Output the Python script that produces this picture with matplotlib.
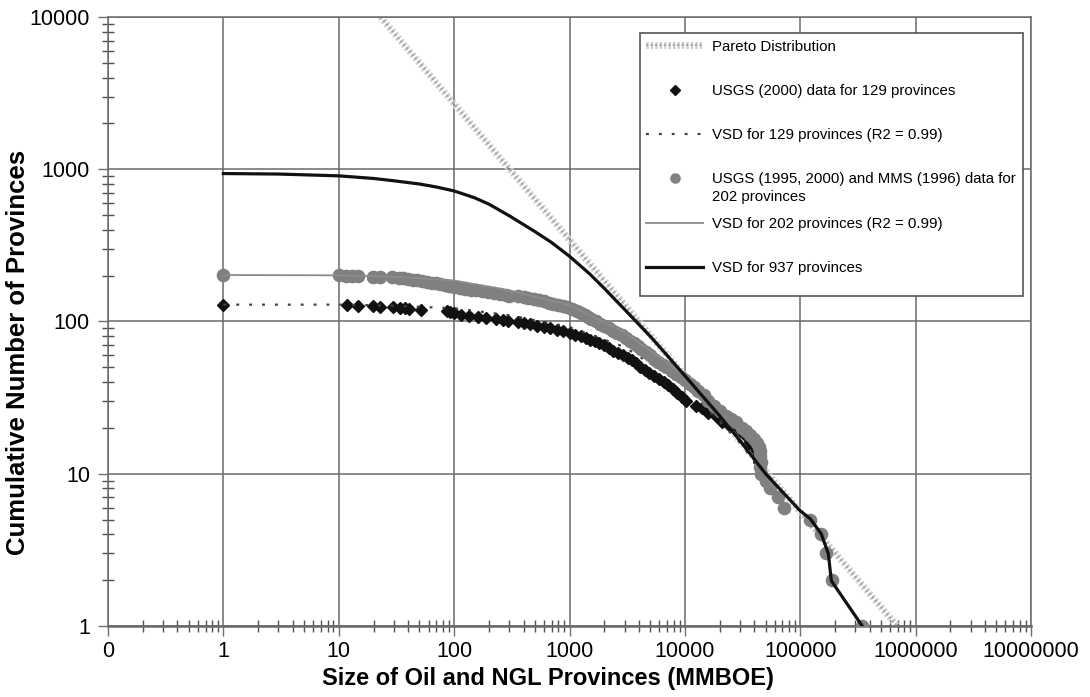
import numpy as np
import matplotlib
matplotlib.use('Agg')
import matplotlib.pyplot as plt
import matplotlib.patheffects as pe
from matplotlib.patches import Rectangle
from matplotlib.ticker import LogLocator, FixedLocator, NullFormatter

plt.rcParams['font.family'] = ['Liberation Sans', 'DejaVu Sans']

# Pareto distribution (straight line in log-log space)
pareto_size = [23, 690000]
pareto_count = [10000, 1]

# USGS (2000) data, 129 provinces
usgs129_size = [1, 11.7, 14.8, 19.9, 22.6, 29.7, 34, 37.5, 41, 52,
                86, 92, 100, 115, 135, 160, 190, 230, 265, 295,
                360, 400, 450, 520, 600, 680, 780, 880, 1000, 1120,
                1250, 1380, 1500, 1650, 1800, 2000, 2200, 2400, 2650, 2900,
                3200, 3500, 3800, 4100, 4500, 4900, 5400, 6000, 6600, 7200,
                7900, 8600, 9400, 10300, 12500, 14000, 16000, 18500, 21000, 24000,
                27000, 30000, 33000, 36000, 40000, 42000, 43000, 44000, 45000, 46000,
                55000, 64000, 72000, 122000, 150000, 168000, 187000, 344000]
usgs129_count = [129, 128, 127, 126, 125, 124, 123, 122, 121, 119,
                 117, 115, 113, 111, 109, 107, 105, 104, 102, 101,
                 99, 98, 96, 94, 92, 90, 88, 86, 84, 82,
                 80, 78, 76, 74, 72, 70, 67, 64, 62, 60,
                 58, 56, 53, 50, 48, 46, 44, 42, 40, 38,
                 36, 34, 32, 30, 28, 27, 25, 24, 22, 21,
                 20, 19, 18, 16, 15, 14, 13, 12, 11, 10,
                 8, 7, 6, 5, 4, 3, 2, 1]

# VSD fit, 129 provinces
vsd129_size = [1, 10, 30, 100, 300, 1000, 3000, 10000, 30000, 60000]
vsd129_count = [129, 129, 127, 122, 110, 92, 68, 38, 16, 8]

# USGS (1995, 2000) and MMS (1996) data, 202 provinces
usgs202_size = [1, 10, 11.5, 13, 14.8, 19.9, 22.6, 29, 33, 36,
                40, 44, 48, 53, 58, 64, 70, 76, 83, 91,
                100, 112, 125, 140, 155, 175, 195, 220, 250, 280,
                300, 360, 400, 440, 490, 540, 600, 660, 720, 800,
                880, 960, 1050, 1150, 1250, 1350, 1450, 1550, 1700, 1850,
                2000, 2200, 2400, 2600, 2850, 3100, 3350, 3600, 3900, 4200,
                4600, 5000, 5400, 5900, 6400, 7000, 7700, 8400, 9200, 10000,
                11000, 12000, 13000, 14500, 16000, 18000, 20000, 22500, 25000, 28000,
                31000, 34000, 37000, 40000, 42000, 43500, 44500, 45000, 45500, 45000,
                46000, 50000, 55000, 64000, 72000, 122000, 150000, 168000, 187000, 344000]
usgs202_count = [202, 201, 200, 199, 198, 197, 196, 195, 193, 192,
                 190, 188, 186, 184, 182, 180, 178, 176, 173, 170,
                 168, 166, 164, 162, 160, 158, 156, 154, 152, 150,
                 148, 146, 144, 142, 140, 138, 136, 133, 130, 128,
                 126, 124, 121, 118, 114, 110, 107, 104, 100, 97,
                 94, 90, 87, 84, 81, 78, 75, 72, 69, 66,
                 63, 60, 57, 54, 52, 50, 47, 45, 43, 41,
                 39, 37, 35, 33, 30, 28, 26, 24, 23, 22,
                 20, 19, 18, 17, 16, 15, 14, 13, 12, 11,
                 10, 9, 8, 7, 6, 5, 4, 3, 2, 1]

# VSD fit, 202 provinces
vsd202_size = [1, 10, 30, 100, 300, 1000, 3000, 10000, 30000, 60000]
vsd202_count = [202, 201, 197, 186, 160, 128, 85, 44, 17, 8]

# VSD, 937 provinces
vsd937_size = [1, 3, 10, 20, 30, 50, 70, 100, 150, 200,
               300, 500, 700, 1000, 1500, 2000, 3000, 5000, 7000, 10000,
               20000, 30000, 50000, 100000, 122000, 152000, 175000, 186000, 344000]
vsd937_count = [937, 930, 905, 870, 840, 800, 765, 720, 650, 590,
                495, 390, 330, 268, 205, 165, 120, 80, 60, 44,
                24, 16.5, 10, 5.7, 5.06, 4.03, 2.98, 1.98, 1]

x_ticks = [0.1, 1, 10, 100, 1000, 10000, 100000, 1000000, 10000000]
x_tick_labels = ['0', '1', '10', '100', '1000', '10000', '100000', '1000000', '10000000']
y_ticks = [1, 10, 100, 1000, 10000]
y_tick_labels = ['1', '10', '100', '1000', '10000']

fig = plt.figure(figsize=(10.9, 6.97), dpi=100)
ax = fig.add_axes([0.0991, 0.1019, 0.8468, 0.8737])
ax.set_xscale('log')
ax.set_yscale('log')

ax.plot(pareto_size, pareto_count, color='#a9a9a9', lw=1.6, ls=(0, (1, 1)), zorder=2,
        path_effects=[pe.Stroke(linewidth=5, foreground='#cdcdcd'), pe.Normal()],
        label='Pareto Distribution')
ax.plot(usgs129_size, usgs129_count, ls='none', marker='D', ms=6.2, color='#111111',
        zorder=3, label='USGS (2000) data for 129 provinces')
ax.plot(vsd129_size, vsd129_count, color='#404040', lw=1.6, ls=(0, (1.3, 4.5)), zorder=4,
        label='VSD for 129 provinces (R2 = 0.99)')
ax.plot(usgs202_size, usgs202_count, ls='none', marker='o', ms=8.8, color='#808080',
        zorder=5, label='USGS (1995, 2000) and MMS (1996) data for')
ax.plot(vsd202_size, vsd202_count, color='#8c8c8c', lw=1.3, zorder=6,
        label='VSD for 202 provinces (R2 = 0.99)')
ax.plot(vsd937_size, vsd937_count, color='#111111', lw=2.3, zorder=7,
        label='VSD for 937 provinces')

ax.set_xlim(0.1, 1e7)
ax.set_ylim(1, 10000)

ax.xaxis.set_major_locator(FixedLocator(x_ticks))
ax.set_xticklabels(x_tick_labels)
ax.yaxis.set_major_locator(FixedLocator(y_ticks))
ax.set_yticklabels(y_tick_labels)
ax.xaxis.set_minor_locator(LogLocator(base=10, subs=np.arange(2, 10), numticks=20))
ax.yaxis.set_minor_locator(LogLocator(base=10, subs=np.arange(2, 10), numticks=20))
ax.xaxis.set_minor_formatter(NullFormatter())
ax.yaxis.set_minor_formatter(NullFormatter())

ax.tick_params(which='major', direction='out', length=7, width=1, color='#707070',
               labelsize=15.5, pad=4)
ax.tick_params(which='minor', direction='inout', length=8, width=1, color='#505050')
ax.tick_params(axis='y', which='major', pad=6)

ax.grid(True, which='major', color='#6a6a6a', lw=1.1, zorder=0)
for side in ax.spines:
    ax.spines[side].set_color('#6a6a6a')
    ax.spines[side].set_linewidth(1.1)
ax.spines['bottom'].set_linewidth(1.8)
ax.set_axisbelow(True)

ax.set_xlabel('Size of Oil and NGL Provinces (MMBOE)', fontsize=17, fontweight='bold')
ax.set_ylabel('Cumulative Number of Provinces', fontsize=18.5, fontweight='bold')
ax.xaxis.set_label_coords(0.477, -0.068)
ax.yaxis.set_label_coords(-0.085, 0.449)

leg = ax.legend(loc='upper left', bbox_to_anchor=(0.576, 0.974), fontsize=10.8,
                frameon=True, fancybox=False, framealpha=1, edgecolor='#555555',
                handlelength=3.8, handletextpad=0.6, labelspacing=2.02, borderpad=0.45,
                numpoints=1, markerscale=0.75, borderaxespad=0)
leg.set_zorder(10)

fig.canvas.draw()
inv = fig.transFigure.inverted()

# second line of the 202-province label, as in the original legend
bb = leg.get_texts()[3].get_window_extent()
x0, y0 = inv.transform((bb.x0, bb.y0 - 4))
fig.text(x0, y0, '202 provinces', fontsize=10.8, ha='left', va='top', zorder=20)

# own frame, with the extra room below the last entry that the original has
fb = leg.get_frame().get_window_extent()
leg.get_frame().set_visible(False)
(fx0, fy0), (fx1, fy1) = inv.transform([(fb.x0, fb.y0 - 14), (fb.x1, fb.y1)])
ax.add_patch(Rectangle((fx0, fy0), fx1 - fx0, fy1 - fy0, transform=fig.transFigure,
                       facecolor='white', edgecolor='#555555', lw=1.2, zorder=9,
                       clip_on=False))

fig.savefig('out.png', dpi=100)
